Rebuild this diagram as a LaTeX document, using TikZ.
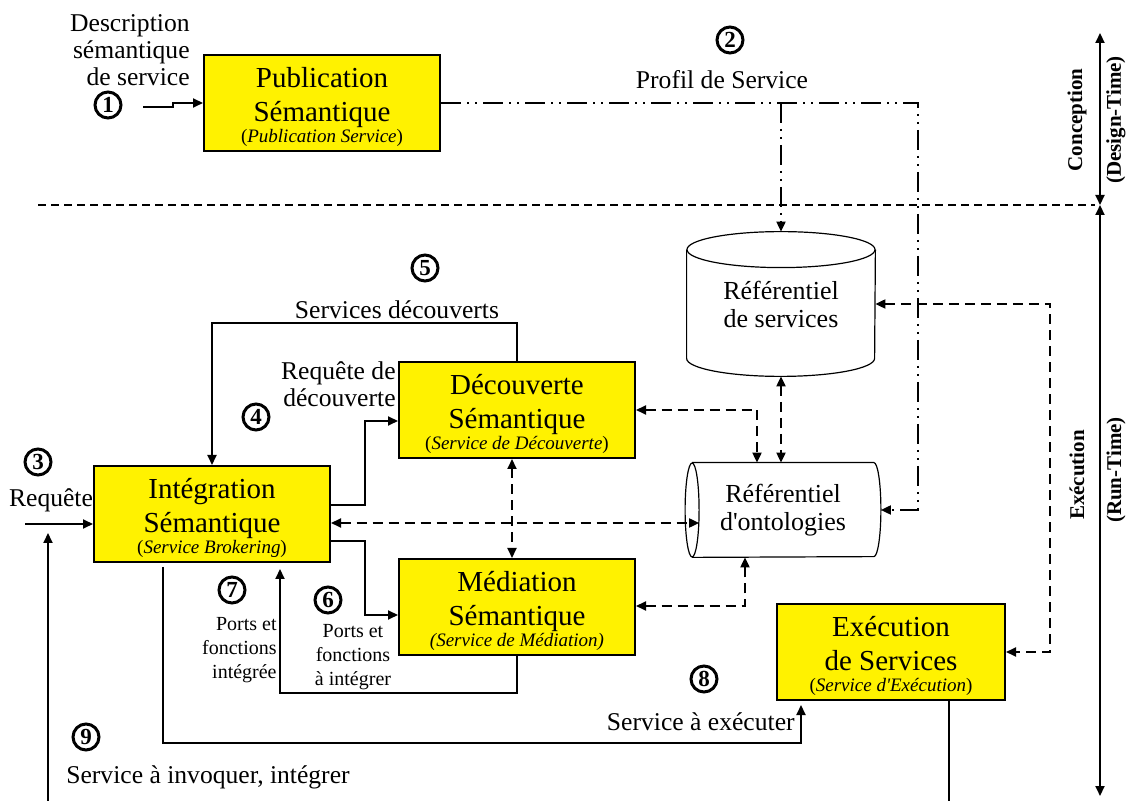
\documentclass[tikz,border=0pt]{standalone}
\usepackage{fontspec}
\setmainfont{Liberation Serif}
\usetikzlibrary{arrows.meta}

\begin{document}
\begin{tikzpicture}
[x=0.5pt, y=-0.5pt, >={Triangle[length=5pt,width=4.5pt]},
bloc/.style={draw, fill=yellow, line width=1pt, minimum width=118pt, minimum height=48pt,
  align=center, inner sep=0pt, font=\fontsize{14.5}{17}\selectfont},
repo/.style={align=center, minimum width=94pt, inner sep=0pt, font=\fontsize{13}{14}\selectfont},
lab/.style={align=center, inner sep=0pt, font=\fontsize{12.8}{13.5}\selectfont},
petit/.style={align=center, inner sep=0pt, font=\fontsize{10}{12}\selectfont},
num/.style={circle, draw, line width=1.5pt, minimum size=13pt, inner sep=0pt,
  font=\bfseries\fontsize{11.5}{11.5}\selectfont},
vlab/.style={rotate=90, inner sep=0pt, font=\bfseries\fontsize{10.5}{11}\selectfont},
fleche/.style={->, line width=1pt},
tirets/.style={<->, line width=1pt, dash pattern=on 5pt off 3pt},
pointille/.style={->, line width=1pt, dash pattern=on 10pt off 3pt on 1pt off 3pt on 1pt off 3pt},
cyl/.style={line width=0.6pt}]
\useasboundingbox (0,0) rectangle (1130,801);

% blocs
\node[bloc] (pub) at (322,103) {\rule{0pt}{14.5pt}Publication\\Sémantique\\[-6.5pt]\fontsize{9.5}{11.5}\selectfont(\textit{Publication Service})};
\node[bloc] (dec) at (517,410) {\rule{0pt}{14.5pt}Découverte\\Sémantique\\[-6.5pt]\fontsize{9.5}{11.5}\selectfont(\textit{Service de Découverte})};
\node[bloc] (integ) at (212,514) {\rule{0pt}{14.5pt}Intégration\\Sémantique\\[-6.5pt]\fontsize{9.5}{11.5}\selectfont(\textit{Service Brokering})};
\node[bloc] (med) at (517,607) {\rule{0pt}{14.5pt}Médiation\\Sémantique\\[-6.5pt]\fontsize{9.5}{11.5}\selectfont\textit{(Service de Médiation)}};
\node[bloc, minimum width=114pt] (exec) at (891,652) {\rule{0pt}{14.5pt}Exécution\\de Services\\[-6.5pt]\fontsize{9.5}{11.5}\selectfont(\textit{Service d\textquotesingle Exécution})};

% referentiels
\node[repo, minimum height=72pt] (srv) at (781,304) {Référentiel\\de services};
\draw[cyl] ([yshift=-9pt]srv.north west) -- ([yshift=9pt]srv.south west)
  arc[start angle=180, end angle=360, x radius=47pt, y radius=9pt] -- ([yshift=-9pt]srv.north east);
\draw[cyl] ([yshift=-9pt]srv.north) ellipse[x radius=47pt, y radius=9pt];

\node[repo, minimum width=97.5pt, minimum height=47pt] (onto) at (783,510) {Référentiel\\d\textquotesingle ontologies};
\draw[cyl] ([xshift=3.5pt]onto.north west) -- ([xshift=-3.5pt]onto.north east)
  arc[start angle=90, end angle=-90, x radius=3.5pt, y radius=23.5pt] -- ([xshift=3.5pt]onto.south west);
\draw[cyl] ([xshift=3.5pt]onto.west) ellipse[x radius=3.5pt, y radius=23.5pt];
\coordinate (ontoin) at ([xshift=7pt,yshift=-6.5pt]onto.west);

% conception / execution
\draw[line width=0.6pt, dash pattern=on 4pt off 2.5pt] (38,205) -- (1095,205);
\coordinate (t0) at (1100,33);
\coordinate (t1) at (1100,205);
\coordinate (t2) at (1100,796);
\draw[<->, line width=1pt] (t0) -- (t1);
\draw[<->, line width=1pt] (t1) -- (t2);
\node[vlab] (conc) at (1077,120) {Conception};
\node[vlab] (dt) at (1116,120) {(Design-Time)};
\node[vlab] (exe) at (1077,475) {Exécution};
\node[vlab] (rt) at (1116,470) {(Run-Time)};

% 1 publication
\coordinate (in1) at (143,107);
\draw[fleche] (in1) -| (173,103) -- (pub.west);
\node[num] (n1) at (108,105) {1};
\node[lab, align=right, anchor=east] (ldesc) at (190,50) {Description\\sémantique\\de service};

% 2 profil
\coordinate (c2) at (918,510);
\draw[pointille] (pub.east) -| (c2) -- (onto.east);
\draw[pointille] (srv.north |- pub.east) -- (srv.north);
\node[num] (n2) at (730,40) {2};
\node[lab] (lprof) at (722,80) {Profil de Service};

% 3 requete
\coordinate (in3) at (25,524);
\draw[fleche] (in3) -- (integ.west |- in3);
\node[num] (n3) at (38,462) {3};
\node[lab] (lreq) at (51,500) {Requête};

% 4 decouverte
\draw[fleche] ([yshift=4.5pt]integ.east) -- ++(17pt,0) |- ([yshift=-5.5pt]dec.west);
\node[num] (n4) at (256,417) {4};
\node[lab, align=right, anchor=east] (lreqd) at (396,384) {Requête de\\découverte};

% 5 services decouverts
\draw[fleche] (dec.north) -- ++(0,19pt) -| (integ.north);
\node[num] (n5) at (425,268) {5};
\node[lab] (lsd) at (397,310) {Services découverts};

% 6 mediation
\draw[fleche] ([yshift=-13.5pt]integ.east) -- ++(17pt,0) |- ([yshift=-4pt]med.west);
\node[num] (n6) at (328,600) {6};
\node[petit] (lpf) at (353,657) {Ports et\\fonctions\\à intégrer};

% 7 retour mediation
\draw[fleche] (med.south) -- ++(0,-18.5pt) -| ([xshift=34pt,yshift=-3pt]integ.south);
\node[num] (n7) at (232,590) {7};
\node[petit, align=right, anchor=east] (lpfi) at (277,650) {Ports et\\fonctions\\intégrée};

% 8 execution
\draw[fleche] ([xshift=-24.5pt,yshift=-2pt]integ.south) -- ++(0,-88pt) -| ([xshift=-45pt,yshift=-2pt]exec.south);
\node[num] (n8) at (704,679) {8};
\node[lab, anchor=east] (lse) at (795,722) {Service à exécuter};

% 9 invocation
\coordinate (bas9) at (48,801);
\coordinate (fin9) at (48,533);
\draw[fleche] (bas9) -- (fin9);
\draw[line width=1pt] ([xshift=29pt]exec.south) -- ++(0,-50pt);
\node[num] (n9) at (86,737) {9};
\node[lab] (linv) at (208,777) {Service à invoquer, intégrer};

% echanges avec les referentiels
\draw[tirets] (dec.east) -| ([xshift=-13pt]onto.north);
\draw[tirets] (srv.south) -- (srv.south |- onto.north);
\draw[tirets] ([xshift=-2.5pt]dec.south) -- ([xshift=-2.5pt]med.north);
\draw[tirets] ([yshift=-4.5pt]integ.east) -- (ontoin);
\draw[tirets] ([yshift=0.5pt]med.east) -| ([xshift=-19pt]onto.south);
\draw[tirets] (srv.east) -- ++(87.5pt,0) |- (exec.east);
\end{tikzpicture}
\end{document}
